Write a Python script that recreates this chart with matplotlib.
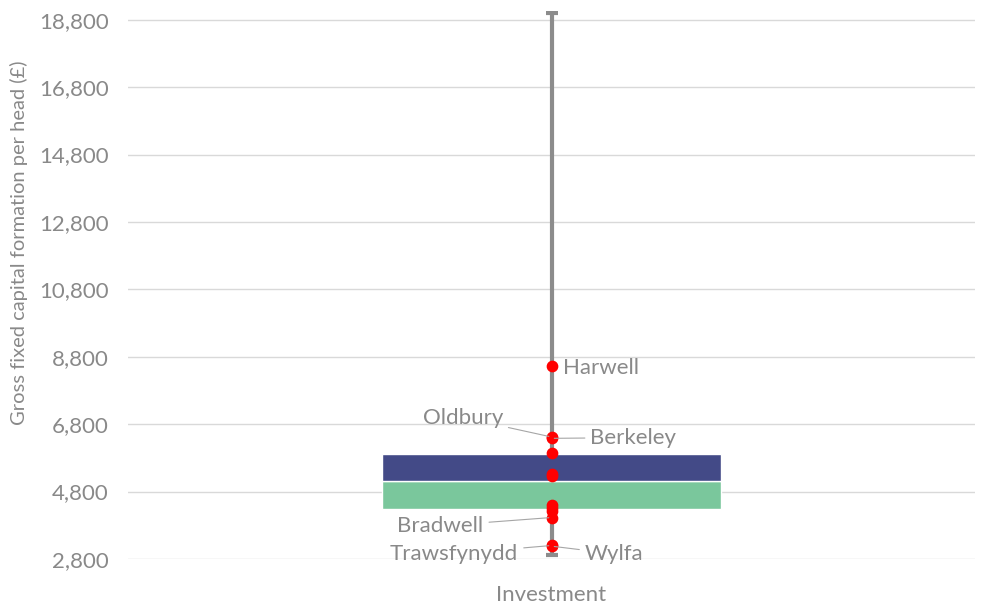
import matplotlib.pyplot as plt

plt.rcParams['font.family'] = ['Lato', 'DejaVu Sans']

# box-plot summary (Gross fixed capital formation per head, £)
category = ['Investment']
whisker_min = 2920
q1 = 4280
median = 5120
q3 = 5920
whisker_max = 19000

# individual sites (red points)
site_names = ['Harwell', 'Oldbury', 'Berkeley', '', '', '', '', '', '',
              'Bradwell', 'Trawsfynydd', 'Wylfa']
site_values = [8530, 6420, 6380, 5950, 5320, 5250, 4400, 4310, 4220,
               4030, 3200, 3180]

yticks = [2800, 4800, 6800, 8800, 10800, 12800, 14800, 16800, 18800]

# label offsets in points (text placement only)
label_pos = {
    'Harwell': ((8.5, -1.2), 'left'),
    'Oldbury': ((-35, 14), 'right'),
    'Berkeley': ((28, 0.5), 'left'),
    'Bradwell': ((-49, -6), 'right'),
    'Trawsfynydd': ((-24, -6), 'right'),
    'Wylfa': ((24, -5.5), 'left'),
}

text_col = '#898989'
fs = 16
fig = plt.figure(figsize=(9.84, 6.06), dpi=100)
ax = fig.add_axes([0.130, 0.0776, 0.861, 0.9042])

x = 0
ax.errorbar([x], [median], yerr=[[median - whisker_min], [whisker_max - median]],
            fmt='none', ecolor='#8C8C8C', elinewidth=3, capsize=4, capthick=3, zorder=2)
ax.bar(category, [median - q1], bottom=[q1], width=0.4, color='#7AC79C',
       edgecolor='white', linewidth=1, zorder=3)
ax.bar(category, [q3 - median], bottom=[median], width=0.4, color='#434A87',
       edgecolor='white', linewidth=1, zorder=3)
ax.scatter([x] * len(site_values), site_values, s=55, color='#FF0000', zorder=4)

for name, val in zip(site_names, site_values):
    if not name:
        continue
    off, ha = label_pos[name]
    ax.annotate(name, xy=(x, val), xytext=off, textcoords='offset points',
                ha=ha, va='center', fontsize=fs, color=text_col,
                arrowprops=dict(arrowstyle='-', color='#A6A6A6', lw=0.8,
                                shrinkA=2, shrinkB=2) if name != 'Harwell' else None,
                zorder=5)

ax.set_xlim(-0.5, 0.5)
ax.set_ylim(2800, 19060)
ax.set_yticks(yticks)
ax.set_yticklabels([f'{v:,}' for v in yticks])
ax.grid(axis='y', color='#D9D9D9', linewidth=1, zorder=0)
ax.set_axisbelow(True)
for s in ax.spines.values():
    s.set_visible(False)
ax.tick_params(axis='y', length=0, pad=14, labelsize=fs, labelcolor=text_col)
ax.tick_params(axis='x', length=0, pad=19, labelsize=fs, labelcolor=text_col)
ax.set_ylabel('Gross fixed capital formation per head (£)', fontsize=14.5, color=text_col)
ax.yaxis.set_label_coords(-0.118, 0.577)

fig.savefig('out.png', dpi=100)
